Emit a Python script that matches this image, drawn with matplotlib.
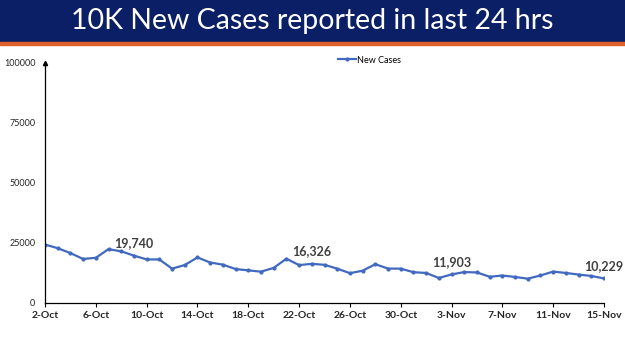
import matplotlib.pyplot as plt
from matplotlib.patches import Rectangle
import numpy as np

# daily new cases, 2-Oct to 15-Nov
dates = ['2-Oct', '3-Oct', '4-Oct', '5-Oct', '6-Oct', '7-Oct', '8-Oct', '9-Oct',
         '10-Oct', '11-Oct', '12-Oct', '13-Oct', '14-Oct', '15-Oct', '16-Oct',
         '17-Oct', '18-Oct', '19-Oct', '20-Oct', '21-Oct', '22-Oct', '23-Oct',
         '24-Oct', '25-Oct', '26-Oct', '27-Oct', '28-Oct', '29-Oct', '30-Oct',
         '31-Oct', '1-Nov', '2-Nov', '3-Nov', '4-Nov', '5-Nov', '6-Nov', '7-Nov',
         '8-Nov', '9-Nov', '10-Nov', '11-Nov', '12-Nov', '13-Nov', '14-Nov', '15-Nov']
new_cases = [24354, 22842, 20799, 18346, 18833, 22431, 21527, 19740,
             18166, 18132, 14313, 15823, 18987, 16862, 15981,
             14146, 13596, 13058, 14623, 18454, 15786, 16326,
             15906, 14306, 12428, 13451, 16156, 14348, 14313,
             12830, 12514, 10423, 11903, 12885, 12729, 10929, 11451,
             10853, 10126, 11466, 13091, 12516, 11850, 11271, 10229]
labelled = ['9-Oct', '23-Oct', '3-Nov', '15-Nov']
yticks = [0, 25000, 50000, 75000, 100000]

plt.rcParams['font.family'] = ['Lato', 'DejaVu Sans']

fig = plt.figure(figsize=(6.25, 3.51), dpi=100)

# title banner
fig.patches.append(Rectangle((0, 1 - 42/351), 1, 42/351, transform=fig.transFigure,
                             color='#0b1f66', zorder=0))
fig.patches.append(Rectangle((0, 1 - 45/351), 1, 3/351, transform=fig.transFigure,
                             color='#e0602a', zorder=0))
fig.text(0.5, 1 - 21/351, '10K New Cases reported in last 24 hrs', color='white',
         ha='center', va='center', fontsize=20.5)

ax = fig.add_axes([45/625, 1 - 303/351, (604 - 45)/625, 240/351])
x = np.arange(len(dates))
ax.plot(x, new_cases, color='#4169c0', lw=1.6, marker='o', ms=2, label='New Cases')

for d in labelled:
    i = dates.index(d)
    ax.annotate(f'{new_cases[i]:,}', (i, new_cases[i]), xytext=(0, 4.5),
                textcoords='offset points', ha='center', va='bottom',
                fontsize=9, fontweight='bold', color='#404040')

ax.set_xlim(0, len(dates) - 1)
ax.set_ylim(0, 100000)
ax.set_xticks(x[::4])
ax.set_xticklabels(dates[::4], fontsize=7.5, fontweight='bold', color='#262626')
ax.set_yticks(yticks)
ax.set_yticklabels([str(v) for v in yticks], fontsize=6.5, color='#262626')
ax.tick_params(axis='x', length=3, width=0.8, pad=3)
ax.tick_params(axis='y', length=0, pad=7)
for s in ['top', 'right']:
    ax.spines[s].set_visible(False)
ax.spines['left'].set_linewidth(0.9)
ax.spines['bottom'].set_linewidth(0.9)
ax.plot(0, 1, '^k', ms=3, transform=ax.transAxes, clip_on=False)

ax.legend(loc='center', bbox_to_anchor=(0.58, 1.012), frameon=False,
          fontsize=6.5, handlelength=2, handletextpad=0.1)

plt.savefig('out.png', dpi=100)
